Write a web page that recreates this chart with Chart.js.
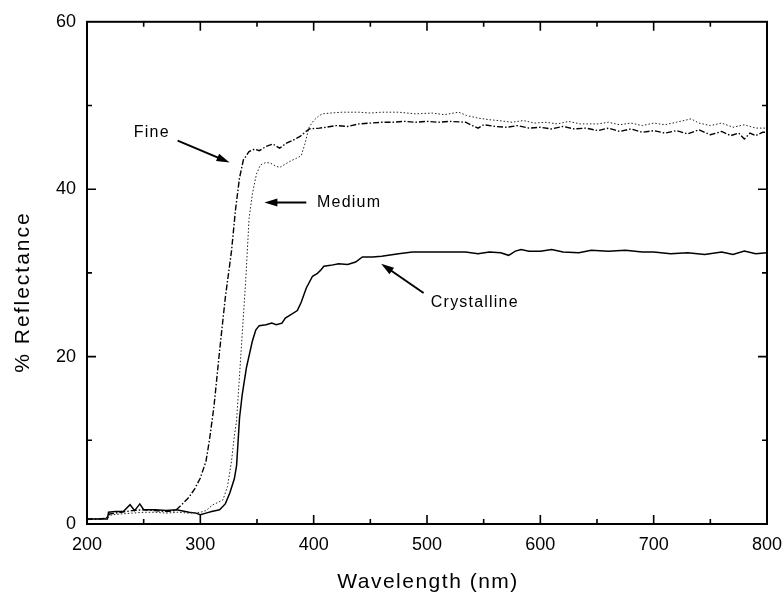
<!DOCTYPE html>
<html>
<head>
<meta charset="utf-8">
<script src="https://cdn.jsdelivr.net/npm/chart.js@4.4.0/dist/chart.umd.min.js"></script>
<style>
  html, body { margin: 0; padding: 0; background: #fff; }
  #wrap { width: 784px; height: 596px; }
</style>
</head>
<body>
<div id="wrap"><canvas id="chart"></canvas></div>
<script>
// ---- data (wavelength nm, % reflectance) ----
const fineWl = [200, 210, 217, 220, 225, 230, 240, 250, 260, 270, 278, 285, 290, 295, 300, 305, 308, 312, 317, 322, 327.5, 331, 334.5, 338, 343, 348, 352, 358, 364, 370, 376, 381, 388, 396, 405, 411, 420, 430, 440, 450, 460, 470, 480, 490, 500, 510, 520, 534, 540, 545, 550, 560, 570, 580, 590, 600, 610, 620, 630, 640, 651, 660, 670, 680, 690, 700, 710, 720, 730, 740, 750, 760, 768, 775, 780, 785, 790, 796, 800];
const fineR = [0.6, 0.6, 0.7, 1.2, 1.3, 1.4, 1.6, 1.7, 1.6, 1.5, 1.6, 2.5, 3.2, 4.2, 5.5, 7.5, 10, 14, 20.7, 27, 32.6, 37.5, 41.3, 43.5, 44.5, 44.8, 44.6, 45.1, 45.4, 44.9, 45.5, 45.8, 46.3, 47.2, 47.3, 47.4, 47.6, 47.5, 47.8, 47.9, 48.0, 48.0, 48.1, 48.0, 48.1, 48.0, 48.1, 48.0, 47.6, 47.3, 47.7, 47.5, 47.4, 47.6, 47.3, 47.4, 47.2, 47.5, 47.2, 47.3, 47.0, 47.3, 46.9, 47.2, 46.8, 47.0, 46.7, 47.0, 46.6, 47.1, 46.5, 46.9, 46.4, 46.7, 46.0, 46.7, 46.4, 46.8, 46.8];

const mediumWl = [200, 210, 218, 222, 230, 240, 250, 260, 270, 280, 290, 300, 305, 311, 316, 320, 324, 327.5, 330, 332, 336, 340, 343, 346, 349.5, 353, 358, 362, 366, 370, 375, 380, 385, 389, 392, 396, 400, 404, 407.5, 415, 425, 440, 450, 460, 475, 490, 505, 515, 528, 535, 545, 555, 563, 575, 585, 595, 605, 615, 625, 635, 651, 660, 670, 680, 690, 700, 710, 720, 733, 740, 750, 760, 770, 780, 790, 800];
const mediumR = [0.5, 0.6, 0.7, 1.1, 1.2, 1.3, 1.4, 1.4, 1.3, 1.4, 1.3, 1.4, 1.6, 2.3, 2.6, 2.9, 4.5, 7.5, 10.5, 12.4, 20.7, 29, 36.5, 39.5, 41.8, 42.9, 43.2, 43.1, 42.8, 42.6, 43.0, 43.4, 43.7, 44.0, 45.3, 47.4, 48.2, 48.7, 49.0, 49.1, 49.2, 49.2, 49.1, 49.2, 49.2, 49.0, 49.1, 48.9, 49.2, 48.8, 48.5, 48.3, 48.2, 48.0, 48.2, 47.9, 48.0, 47.8, 48.1, 47.8, 47.8, 48.0, 47.7, 47.9, 47.6, 47.9, 47.7, 48.0, 48.4, 47.9, 47.6, 47.9, 47.4, 47.7, 47.3, 47.3];

const crystWl = [200, 210, 218, 219, 225, 232, 238, 242, 246.6, 250, 260, 270, 279, 290, 296, 300, 305, 310, 317, 322, 326, 330, 332, 334.6, 337, 340.7, 346, 349, 352, 358, 363, 367, 372, 375, 378.5, 385.6, 389, 393.5, 399, 403, 406, 409, 415, 422, 430, 437, 443, 452, 460, 475, 487, 500, 515, 534, 545, 555, 565, 572, 578, 583, 590, 600, 610, 620, 634, 645, 660, 675, 690, 700, 715, 730, 745, 760, 770, 780, 790, 800];
const crystR = [0.6, 0.6, 0.6, 1.4, 1.5, 1.5, 2.3, 1.6, 2.4, 1.7, 1.7, 1.6, 1.7, 1.4, 1.3, 1.1, 1.3, 1.5, 1.7, 2.4, 3.7, 5.4, 7, 12.7, 15.5, 18.7, 21.9, 23.2, 23.7, 23.8, 24.0, 23.8, 24.0, 24.6, 24.9, 25.5, 26.5, 28.2, 29.6, 29.9, 30.3, 30.8, 30.9, 31.1, 31.0, 31.3, 31.9, 31.9, 32.0, 32.3, 32.5, 32.5, 32.5, 32.5, 32.3, 32.5, 32.4, 32.1, 32.6, 32.8, 32.6, 32.6, 32.8, 32.5, 32.4, 32.7, 32.6, 32.7, 32.5, 32.5, 32.3, 32.4, 32.2, 32.5, 32.2, 32.6, 32.3, 32.4];

const xTicks = [200, 300, 400, 500, 600, 700, 800];
const yTicks = [0, 20, 40, 60];

// annotations in data units: text position, arrow tail -> arrow tip
const notes = [
  { text: 'Fine', x: 273, y: 46.8, align: 'right', from: [280, 45.8], to: [325.8, 43.2] },
  { text: 'Medium', x: 403, y: 38.4, align: 'left', from: [393.5, 38.4], to: [356.5, 38.4] },
  { text: 'Crystalline', x: 503.4, y: 26.4, align: 'left', from: [497, 27.6], to: [459.5, 31.1] }
];

const FONT = '"Liberation Sans", Arial, Helvetica, sans-serif';

function pts(xs, ys) {
  return xs.map((x, i) => ({ x: x, y: ys[i] }));
}

// frame, inward ticks, axis titles and labels
const framePlugin = {
  id: 'frame',
  afterDatasetsDraw(chart) {
    const { ctx, chartArea: a, scales } = chart;
    const sx = scales.x, sy = scales.y;
    ctx.save();
    ctx.strokeStyle = '#000';
    ctx.lineWidth = 2;
    ctx.strokeRect(a.left, a.top, a.right - a.left, a.bottom - a.top);

    ctx.lineWidth = 1.6;
    ctx.beginPath();
    for (let v = 250; v < 800; v += 50) {
      const px = sx.getPixelForValue(v);
      const len = v % 100 === 0 ? 9 : 5;
      ctx.moveTo(px, a.bottom); ctx.lineTo(px, a.bottom - len);
      ctx.moveTo(px, a.top); ctx.lineTo(px, a.top + len);
    }
    for (let v = 10; v < 60; v += 10) {
      const py = sy.getPixelForValue(v);
      const len = v % 20 === 0 ? 9 : 5;
      ctx.moveTo(a.left, py); ctx.lineTo(a.left + len, py);
      ctx.moveTo(a.right, py); ctx.lineTo(a.right - len, py);
    }
    ctx.stroke();

    // axis titles
    ctx.fillStyle = '#000';
    ctx.font = '21px ' + FONT;
    ctx.letterSpacing = '1.5px';
    ctx.textAlign = 'center';
    ctx.textBaseline = 'middle';
    ctx.fillText('Wavelength (nm)', 428, 582);
    ctx.save();
    ctx.translate(23, 292);
    ctx.rotate(-Math.PI / 2);
    ctx.letterSpacing = '2px';
    ctx.fillText('% Reflectance', 0, 0);
    ctx.restore();

    // annotations
    ctx.font = '16px ' + FONT;
    ctx.letterSpacing = '1.2px';
    notes.forEach(n => {
      ctx.textAlign = n.align;
      ctx.fillText(n.text, sx.getPixelForValue(n.x), sy.getPixelForValue(n.y));
      const x1 = sx.getPixelForValue(n.from[0]), y1 = sy.getPixelForValue(n.from[1]);
      const x2 = sx.getPixelForValue(n.to[0]), y2 = sy.getPixelForValue(n.to[1]);
      const ang = Math.atan2(y2 - y1, x2 - x1);
      ctx.lineWidth = 2;
      ctx.beginPath();
      ctx.moveTo(x1, y1);
      ctx.lineTo(x2 - 8 * Math.cos(ang), y2 - 8 * Math.sin(ang));
      ctx.stroke();
      ctx.beginPath();
      ctx.moveTo(x2, y2);
      ctx.lineTo(x2 - 13 * Math.cos(ang) + 4 * Math.sin(ang), y2 - 13 * Math.sin(ang) - 4 * Math.cos(ang));
      ctx.lineTo(x2 - 13 * Math.cos(ang) - 4 * Math.sin(ang), y2 - 13 * Math.sin(ang) + 4 * Math.cos(ang));
      ctx.closePath();
      ctx.fill();
    });
    ctx.restore();
  }
};

new Chart(document.getElementById('chart'), {
  type: 'line',
  data: {
    datasets: [
      { label: 'Fine', data: pts(fineWl, fineR), borderColor: '#000', borderWidth: 1.4, borderDash: [6, 2, 1.5, 2], pointRadius: 0, tension: 0 },
      { label: 'Medium', data: pts(mediumWl, mediumR), borderColor: '#222', borderWidth: 1, borderDash: [1.5, 2], pointRadius: 0, tension: 0 },
      { label: 'Crystalline', data: pts(crystWl, crystR), borderColor: '#000', borderWidth: 1.5, pointRadius: 0, tension: 0 }
    ]
  },
  options: {
    responsive: true,
    maintainAspectRatio: false,
    animation: false,
    layout: { padding: { top: 21, right: 17, left: 0, bottom: 0 } },
    plugins: { legend: { display: false }, tooltip: { enabled: false } },
    scales: {
      x: {
        type: 'linear', min: 200, max: 800,
        afterBuildTicks: s => { s.ticks = xTicks.map(v => ({ value: v })); },
        afterFit: s => { s.height = 72; s.paddingLeft = 0; s.paddingRight = 0; },
        grid: { display: false, drawTicks: false },
        border: { display: false },
        ticks: { color: '#000', padding: 10, font: { family: FONT, size: 18 } }
      },
      y: {
        min: 0, max: 60,
        afterBuildTicks: s => { s.ticks = yTicks.map(v => ({ value: v })); },
        afterFit: s => { s.width = 87; },
        grid: { display: false, drawTicks: false },
        border: { display: false },
        ticks: { color: '#000', padding: 11, font: { family: FONT, size: 18 } }
      }
    }
  },
  plugins: [framePlugin]
});
</script>
</body>
</html>
